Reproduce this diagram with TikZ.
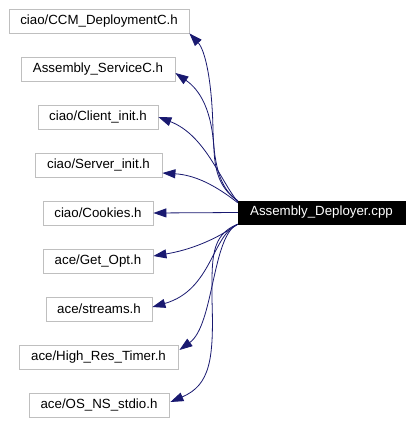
\documentclass[tikz,border=0pt]{standalone}
\usepackage{fontspec}
\setmainfont{Liberation Sans}
\usetikzlibrary{arrows.meta}
\definecolor{edgeblue}{HTML}{191970}
\definecolor{boxgray}{HTML}{BFBFBF}
\begin{document}
\begin{tikzpicture}[x=1pt,y=-1pt,
  filebox/.style={draw=boxgray,line width=0.8pt,inner sep=0pt,minimum height=24pt,
    font=\fontsize{13.3}{16}\selectfont,text=black},
  mainbox/.style={fill=black,draw=black,inner sep=0pt,minimum height=23pt,minimum width=167pt,
    font=\fontsize{13.3}{16}\selectfont,text=white},
  edge/.style={draw=edgeblue,line width=0.8pt,-{Triangle[length=13pt,width=9pt]},fill=none}]
\useasboundingbox (0,0) rectangle (412,423);
\node[filebox,minimum width=180pt] (ccm) at (99,21) {ciao/CCM\_DeploymentC.h};
\node[filebox,minimum width=154pt] (ass) at (98,69) {Assembly\_ServiceC.h};
\node[filebox,minimum width=120pt] (cli) at (98,117) {ciao/Client\_init.h};
\node[filebox,minimum width=127pt] (ser) at (98.5,165) {ciao/Server\_init.h};
\node[filebox,minimum width=110pt] (coo) at (98,213) {ciao/Cookies.h};
\node[filebox,minimum width=110pt] (get) at (98,261) {ace/Get\_Opt.h};
\node[filebox,minimum width=106pt] (str) at (99,309) {ace/streams.h};
\node[filebox,minimum width=159pt] (hrt) at (98.5,357) {ace/High\_Res\_Timer.h};
\node[filebox,minimum width=140pt] (osn) at (99,405) {ace/OS\_NS\_stdio.h};
\node[mainbox] (main) at (321.5,212.5) {Assembly\_Deployer.cpp};
\draw[edge] (main.north west) .. controls (222,190) and (214,170) .. (213,130)
  .. controls (212,80) and (205,50) .. (ccm.south east);
\draw[edge] (main.north west) .. controls (222,190) and (215,175) .. (214,150)
  .. controls (212,110) and (200,90) .. ([yshift=-4pt]ass.east);
\draw[edge] ([yshift=-1pt]main.north west) .. controls (220,180) and (205,135) .. (cli.east);
\draw[edge] ([yshift=-2pt]main.north west) .. controls (215,185) and (195,175) .. ([yshift=-8pt]ser.east);
\draw[edge] (main.west) -- (coo.east);
\draw[edge] (main.south west) .. controls (215,240) and (190,250) .. ([yshift=5pt]get.east);
\draw[edge] (main.south west) .. controls (212,235) and (212,290) .. ([yshift=2pt]str.east);
\draw[edge] (main.south west) .. controls (212,235) and (214,325) .. ([yshift=7pt,xshift=1pt]hrt.east);
\draw[edge] (main.south west) .. controls (210,235) and (212,260) .. (212,300)
  .. controls (214,360) and (210,385) .. ([yshift=3pt,xshift=1pt]osn.east);
\end{tikzpicture}
\end{document}
